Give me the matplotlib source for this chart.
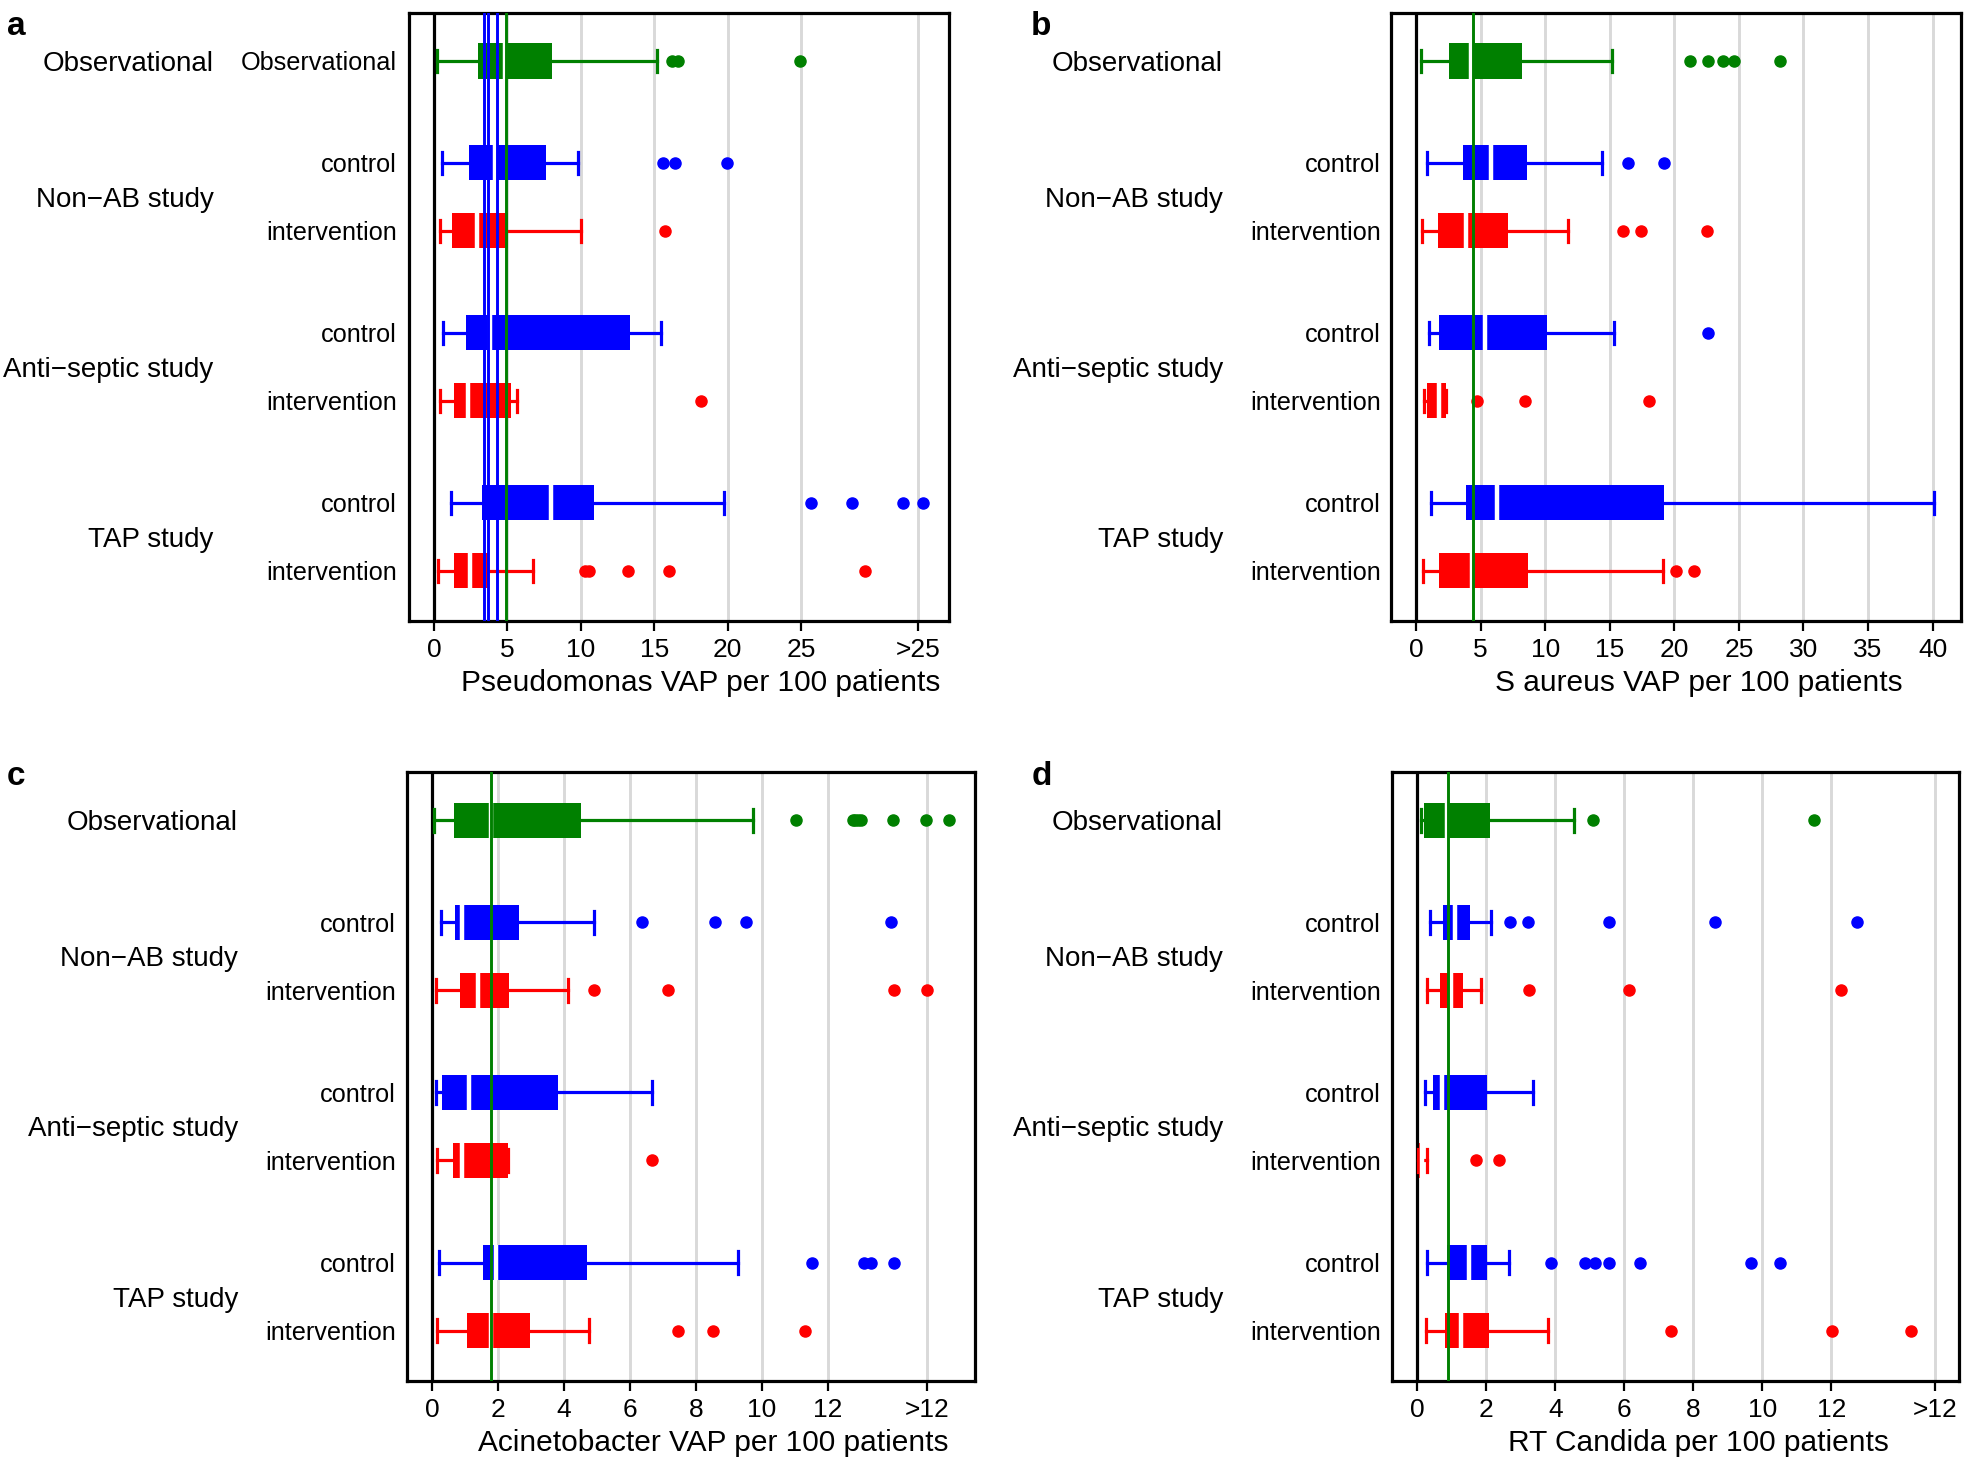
import matplotlib.pyplot as plt
import matplotlib.transforms as mtransforms

plt.rcParams['font.family'] = ['Liberation Sans', 'DejaVu Sans']

GREEN = '#008000'
BLUE = '#0000ff'
RED = '#ff0000'

# rows from top to bottom
row_names = ['Observational', 'control', 'intervention', 'control', 'intervention', 'control', 'intervention']
row_pos = [0, 1.5, 2.5, 4, 5, 6.5, 7.5]
row_colors = [GREEN, BLUE, RED, BLUE, RED, BLUE, RED]
group_names = ['Observational', 'Non\u2212AB study', 'Anti\u2212septic study', 'TAP study']
group_pos = [0, 2, 4.5, 7]

# a: Pseudomonas (values past 25 are on the compressed ">25" part of the axis)
pse_lo = [0.19, 0.56, 0.41, 0.61, 0.39, 1.17, 0.29]
pse_q1 = [2.97, 2.36, 1.24, 2.19, 1.34, 3.26, 1.34]
pse_med = [4.82, 4.18, 2.90, 3.80, 2.29, 8.00, 2.43]
pse_q3 = [8.03, 7.66, 5.06, 13.38, 5.28, 10.88, 3.77]
pse_hi = [15.18, 9.83, 10.02, 15.45, 5.69, 19.78, 6.72]
pse_out = [[16.2, 16.6, 24.96], [15.57, 16.4, 19.98], [15.77], [], [18.17],
           [25.65, 28.5, 31.95, 33.28], [10.32, 10.56, 13.19, 16.0, 29.37]]
pse_ref_blue = [3.41, 3.65, 4.28]
pse_ref_green = 4.91
pse_ticks = [0, 5, 10, 15, 20, 25, 33]
pse_ticklabels = ['0', '5', '10', '15', '20', '25', '>25']

# b: S aureus
sau_lo = [0.38, 0.87, 0.44, 0.99, 0.64, 1.13, 0.52]
sau_q1 = [2.55, 3.60, 1.68, 1.74, 0.87, 3.83, 1.74]
sau_med = [4.25, 5.78, 3.85, 5.31, 1.75, 6.24, 4.32]
sau_q3 = [8.20, 8.60, 7.14, 10.10, 2.32, 19.20, 8.70]
sau_hi = [15.20, 14.40, 11.80, 15.30, 2.32, 40.10, 19.10]
sau_out = [[21.2, 22.6, 23.8, 24.6, 28.2], [16.4, 19.2], [16.0, 17.4, 22.5], [22.6],
           [4.7, 8.4, 18.0], [], [20.1, 21.5]]
sau_ref_green = 4.38
sau_ticks = [0, 5, 10, 15, 20, 25, 30, 35, 40]
sau_ticklabels = ['0', '5', '10', '15', '20', '25', '30', '35', '40']

# c: Acinetobacter
aci_lo = [0.05, 0.28, 0.12, 0.13, 0.16, 0.20, 0.15]
aci_q1 = [0.66, 0.70, 0.85, 0.30, 0.63, 1.53, 1.07]
aci_med = [1.78, 0.90, 1.39, 1.12, 0.90, 1.93, 1.78]
aci_q3 = [4.52, 2.62, 2.33, 3.81, 2.29, 4.70, 2.96]
aci_hi = [9.73, 4.92, 4.12, 6.66, 2.29, 9.26, 4.77]
aci_out = [[11.03, 12.74, 12.82, 12.9, 13.0, 13.97, 14.97, 15.67], [6.36, 8.57, 9.52, 13.9],
           [4.91, 7.14, 14.0, 14.99], [], [6.67], [11.5, 13.1, 13.3, 14.0], [7.46, 8.51, 11.3]]
aci_ref_green = 1.80
aci_ticks = [0, 2, 4, 6, 8, 10, 12, 15]
aci_ticklabels = ['0', '2', '4', '6', '8', '10', '12', '>12']

# d: RT Candida
can_lo = [0.11, 0.36, 0.28, 0.22, 0.02, 0.28, 0.24]
can_q1 = [0.20, 0.75, 0.66, 0.45, 0.04, 0.87, 0.81]
can_med = [0.87, 1.09, 0.98, 0.71, 0.12, 1.49, 1.26]
can_q3 = [2.09, 1.51, 1.31, 2.01, 0.17, 2.01, 2.08]
can_hi = [4.55, 2.12, 1.83, 3.35, 0.28, 2.66, 3.79]
can_out = [[5.09, 11.5], [2.67, 3.2, 5.56, 8.62, 12.73], [3.22, 6.12, 12.28], [],
           [1.69, 2.37], [3.86, 4.87, 5.15, 5.56, 6.46, 9.68, 10.51], [7.34, 12.01, 14.31]]
can_ref_green = 0.89
can_ticks = [0, 2, 4, 6, 8, 10, 12, 15]
can_ticklabels = ['0', '2', '4', '6', '8', '10', '12', '>12']


def draw_panel(ax, lo, q1, med, q3, hi, out, green, blues, ticks, ticklabels, xlim,
               xlabel, group_x, sub_x, show_obs_sub):
    for i in range(len(row_pos)):
        c = row_colors[i]
        st = [dict(whislo=lo[i], q1=q1[i], med=med[i], q3=q3[i], whishi=hi[i], fliers=out[i])]
        ax.bxp(st, positions=[row_pos[i]], widths=0.52, capwidths=0.33,
               orientation='horizontal', patch_artist=True, manage_ticks=False,
               boxprops=dict(facecolor=c, edgecolor=c, linewidth=0),
               medianprops=dict(color='white', linewidth=3.2, solid_capstyle='butt'),
               whiskerprops=dict(color=c, linewidth=2.3),
               capprops=dict(color=c, linewidth=2.3),
               flierprops=dict(marker='o', markerfacecolor=c, markeredgecolor=c,
                               markersize=8, linestyle='none'),
               zorder=3)
    ax.axvline(0, color='black', linewidth=2.3, zorder=2)
    for b in blues:
        ax.axvline(b, color=BLUE, linewidth=2.1, zorder=4)
    ax.axvline(green, color=GREEN, linewidth=2.1, zorder=4)

    ax.set_xticks(ticks)
    ax.set_xticklabels(ticklabels)
    for t in ticks[1:]:
        ax.axvline(t, color='#d9d9d9', linewidth=2.1, zorder=1)
    ax.set_xlim(xlim)
    ax.set_ylim(8.24, -0.71)
    ax.set_yticks([])
    ax.tick_params(axis='x', length=7, width=1.6, pad=5, labelsize=19)
    for s in ax.spines.values():
        s.set_linewidth(2.3)
    ax.set_xlabel(xlabel, fontsize=21.5, x=0.54, labelpad=5)

    fig = ax.figure
    trans = mtransforms.blended_transform_factory(fig.transFigure, ax.transData)
    for name, y in zip(group_names, group_pos):
        ax.text(group_x, y, name, transform=trans, ha='right', va='center_baseline', fontsize=20)
    for i, (name, y) in enumerate(zip(row_names, row_pos)):
        if i == 0 and not show_obs_sub:
            continue
        ax.text(sub_x, y, name, transform=trans, ha='right', va='center_baseline', fontsize=18.2)


fig = plt.figure(figsize=(19.68, 14.61), dpi=100)
ax_a = fig.add_axes([0.2076, 0.5749, 0.2746, 0.4165])
ax_b = fig.add_axes([0.7068, 0.5749, 0.2896, 0.4165])
ax_c = fig.add_axes([0.2068, 0.0548, 0.2886, 0.4168])
ax_d = fig.add_axes([0.7073, 0.0548, 0.2881, 0.4168])

draw_panel(ax_a, pse_lo, pse_q1, pse_med, pse_q3, pse_hi, pse_out, pse_ref_green, pse_ref_blue,
           pse_ticks, pse_ticklabels, (-1.73, 35.08), 'Pseudomonas VAP per 100 patients',
           0.1085, 0.2017, True)
draw_panel(ax_b, sau_lo, sau_q1, sau_med, sau_q3, sau_hi, sau_out, sau_ref_green, [],
           sau_ticks, sau_ticklabels, (-1.95, 42.2), 'S aureus VAP per 100 patients',
           0.6214, 0.7017, False)
draw_panel(ax_c, aci_lo, aci_q1, aci_med, aci_q3, aci_hi, aci_out, aci_ref_green, [],
           aci_ticks, aci_ticklabels, (-0.76, 16.45), 'Acinetobacter VAP per 100 patients',
           0.1209, 0.2012, False)
draw_panel(ax_d, can_lo, can_q1, can_med, can_q3, can_hi, can_out, can_ref_green, [],
           can_ticks, can_ticklabels, (-0.74, 15.7), 'RT Candida per 100 patients',
           0.6214, 0.7017, False)

for letter, x, y in [('a', 0.0036, 0.976), ('b', 0.524, 0.976), ('c', 0.0036, 0.4627), ('d', 0.5244, 0.4627)]:
    fig.text(x, y, letter, fontsize=24, fontweight='bold', va='baseline')

fig.savefig('out.png', dpi=100)
